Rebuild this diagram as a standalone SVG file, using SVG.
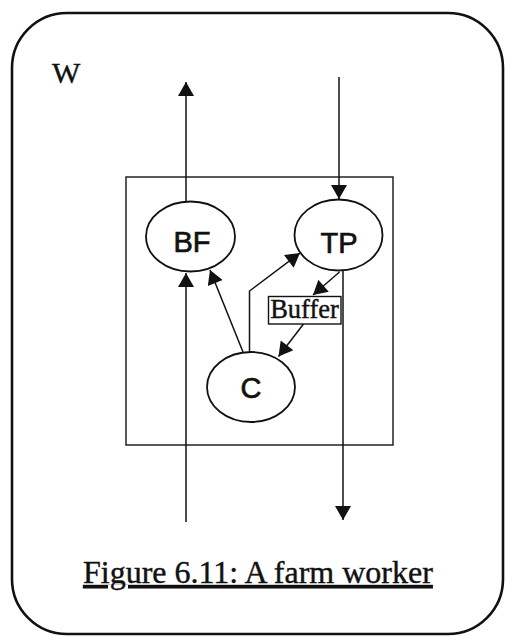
<svg xmlns="http://www.w3.org/2000/svg" width="505" height="636" viewBox="0 0 505 636">
<style>
.frame{fill:none;stroke:#111;stroke-width:2.6}
.box{fill:none;stroke:#222;stroke-width:1.5}
.node{fill:#fff;stroke:#111;stroke-width:1.8}
.lbl{font-family:"Liberation Sans",Arial,sans-serif;font-size:29px;fill:#111;stroke:#111;stroke-width:0.7;text-anchor:middle}
.serif{font-family:"Liberation Serif","Times New Roman",serif;fill:#111;stroke:#111;stroke-width:0.4}
.conn{fill:none;stroke:#111;stroke-width:1.5;marker-end:url(#ah)}
</style>
<defs>
<marker id="ah" markerUnits="userSpaceOnUse" markerWidth="16" markerHeight="16" viewBox="0 0 14 16" refX="14" refY="8" orient="auto">
<path d="M0,0 L14,8 L0,16 Z" fill="#111"/>
</marker>
</defs>
<rect class="frame" x="12" y="13" width="491" height="621" rx="55" ry="55"/>
<text class="serif" x="52" y="83" font-size="30">W</text>
<rect class="box" x="126" y="177" width="267" height="268"/>
<g id="connectors">
<line class="conn" x1="186" y1="201" x2="186" y2="82"/>
<line class="conn" x1="186" y1="522" x2="186" y2="273"/>
<line class="conn" x1="339" y1="77" x2="339" y2="199"/>
<line class="conn" x1="343" y1="270" x2="343" y2="520"/>
<line class="conn" x1="243" y1="352" x2="210" y2="270"/>
<polyline class="conn" points="249.5,352 249.5,291 300,253"/>
<line class="conn" x1="339.5" y1="272" x2="313" y2="295"/>
<line class="conn" x1="303.5" y1="324" x2="278.5" y2="356.5"/>
</g>
<g id="BF">
<ellipse class="node" cx="190.5" cy="236.5" rx="44.5" ry="35"/>
<text class="lbl" x="192" y="252">BF</text>
</g>
<g id="TP">
<ellipse class="node" cx="338.5" cy="235" rx="44" ry="35.5"/>
<text class="lbl" x="339" y="252.5">TP</text>
</g>
<g id="C">
<ellipse class="node" cx="251" cy="387" rx="44" ry="35"/>
<text class="lbl" x="251" y="398">C</text>
</g>
<g id="Buffer">
<rect x="268.5" y="296.5" width="72.5" height="27.5" fill="#fff" stroke="#111" stroke-width="1.4"/>
<text class="serif" x="304.5" y="317.5" font-size="26.5" text-anchor="middle">Buffer</text>
</g>
<text class="serif" x="83" y="583" font-size="32" text-decoration="underline">Figure 6.11: A farm worker</text>
</svg>
